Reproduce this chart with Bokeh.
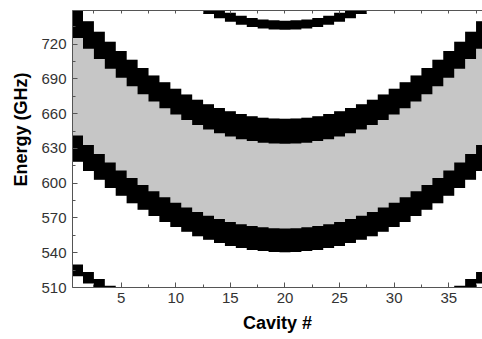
from bokeh.plotting import figure
from bokeh.models import Range1d, LinearAxis, FixedTicker, Title
from bokeh.embed import file_html
from bokeh.resources import INLINE

# ---- data -------------------------------------------------------------
cavity = list(range(1, 39))

# upper black band (GHz): lower / upper edge per cavity
band_upper_low = [725.3, 716.0, 707.1, 698.8, 690.9, 683.6, 676.8, 670.4, 664.6, 659.3,
                  654.5, 650.2, 646.4, 643.1, 640.3, 638.0, 636.3, 635.0, 634.3, 634.0,
                  634.3, 635.0, 636.3, 638.0, 640.3, 643.1, 646.4, 650.2, 654.5, 659.3,
                  664.6, 670.4, 676.8, 683.6, 690.9, 698.8, 707.1, 716.0]
band_upper_high = [751.0, 739.7, 730.6, 722.1, 714.0, 706.5, 699.4, 692.9, 687.0, 681.5,
                   676.6, 672.1, 668.2, 664.9, 662.0, 659.7, 657.8, 656.5, 655.8, 655.5,
                   655.8, 656.5, 657.8, 659.7, 662.0, 664.9, 668.2, 672.1, 676.6, 681.5,
                   687.0, 692.9, 699.4, 706.5, 714.0, 722.1, 730.6, 739.7]

# lower black band (GHz)
band_lower_low = [618.5, 610.5, 602.9, 595.8, 589.1, 582.8, 577.0, 571.6, 566.6, 562.1,
                  558.0, 554.3, 551.1, 548.3, 545.9, 544.0, 542.4, 541.4, 540.7, 540.5,
                  540.7, 541.4, 542.4, 544.0, 545.9, 548.3, 551.1, 554.3, 558.0, 562.1,
                  566.6, 571.6, 577.0, 582.8, 589.1, 595.8, 602.9, 610.5]
band_lower_high = [641.1, 632.9, 625.2, 617.8, 611.0, 604.5, 598.5, 593.0, 587.9, 583.2,
                   579.0, 575.2, 571.9, 569.0, 566.6, 564.6, 563.0, 561.9, 561.2, 561.0,
                   561.2, 561.9, 563.0, 564.6, 566.6, 569.0, 571.9, 575.2, 579.0, 583.2,
                   587.9, 593.0, 598.5, 604.5, 611.0, 617.8, 625.2, 632.9]

# top arc (only cavities 13-27 fall inside the energy window)
top_cavity = list(range(13, 28))
top_low = [746.0, 742.4, 739.3, 736.8, 734.8, 733.4, 732.6, 732.3,
           732.6, 733.4, 734.8, 736.8, 739.3, 742.4, 746.0]
top_high = [753.4, 749.9, 747.0, 744.5, 742.6, 741.3, 740.5, 740.2,
            740.5, 741.3, 742.6, 744.5, 747.0, 749.9, 753.4]

# bottom corner band
corner_cavity = [1, 2, 3, 4, 36, 37, 38]
corner_low = [519.8, 513.4, 507.3, 501.5, 501.5, 507.3, 513.4]
corner_high = [529.8, 523.4, 517.3, 511.5, 511.5, 517.3, 523.4]

x_ticks = [5, 10, 15, 20, 25, 30, 35]
x_minor = [2.5, 7.5, 12.5, 17.5, 22.5, 27.5, 32.5, 37.5]
y_ticks = [510, 540, 570, 600, 630, 660, 690, 720]
y_minor = [525, 555, 585, 615, 645, 675, 705, 735]


def staircase(cav, low, high):
    """One stepped outline per run of neighbouring cavities (cells are 1 wide)."""
    runs, cur = [], []
    for c, lo, hi in zip(cav, low, high):
        if cur and c != cur[-1][0] + 1:
            runs.append(cur)
            cur = []
        cur.append((c, lo, hi))
    if cur:
        runs.append(cur)
    xs, ys = [], []
    for run in runs:
        px, py = [], []
        for c, lo, hi in run:
            px += [c - 0.5, c + 0.5]
            py += [hi, hi]
        for c, lo, hi in reversed(run):
            px += [c + 0.5, c - 0.5]
            py += [lo, lo]
        xs.append(px)
        ys.append(py)
    return xs, ys


# ---- figure -----------------------------------------------------------
p = figure(frame_width=410, frame_height=277,
           x_range=Range1d(0.54, 38.09), y_range=Range1d(510, 749),
           output_backend="svg", toolbar_location=None,
           min_border_left=72, min_border_right=0,
           min_border_top=10, min_border_bottom=52,
           background_fill_color="white", border_fill_color="white")
p.grid.visible = False
p.outline_line_color = None

GREY = "#c6c6c6"
# grey pass band, spanning both black bands (they are painted over it)
gx, gy = staircase(cavity, band_lower_low, band_upper_high)
p.patches(gx, gy, fill_color=GREY, line_color=None)

for cav, lo, hi in [(cavity, band_upper_low, band_upper_high),
                    (cavity, band_lower_low, band_lower_high),
                    (top_cavity, top_low, top_high),
                    (corner_cavity, corner_low, corner_high)]:
    bx, by = staircase(cav, lo, hi)
    p.patches(bx, by, fill_color="black", line_color=None)

AX = "#555555"
FONT = "Liberation Sans"


def style_axis(ax):
    ax.axis_line_color = AX
    ax.axis_line_width = 1
    ax.major_tick_line_color = AX
    ax.minor_tick_line_color = AX
    ax.major_tick_in = 5
    ax.major_tick_out = 0
    ax.minor_tick_in = 3
    ax.minor_tick_out = 0
    ax.major_label_text_font = FONT
    ax.major_label_text_font_size = "15px"
    ax.major_label_text_color = "#333333"
    ax.major_label_standoff = 5


xa = p.xaxis[0]
xa.ticker = FixedTicker(ticks=x_ticks, minor_ticks=x_minor)
style_axis(xa)
xa.axis_label = "Cavity #"
xa.axis_label_text_font = FONT
xa.axis_label_text_font_style = "bold"
xa.axis_label_text_font_size = "18px"
xa.axis_label_text_color = "black"
xa.axis_label_standoff = 7

ya = p.yaxis[0]
ya.ticker = FixedTicker(ticks=y_ticks, minor_ticks=y_minor)
style_axis(ya)
ya.major_label_standoff = 6

# top edge: short inward ticks only, no labels
top = LinearAxis(ticker=FixedTicker(ticks=[], minor_ticks=sorted(x_ticks + x_minor)))
style_axis(top)
top.minor_tick_in = 3
p.add_layout(top, "above")

ytitle = Title(text="Energy (GHz)", align="right", offset=62, standoff=16,
               text_font=FONT, text_font_style="bold", text_font_size="18px",
               text_color="black")
p.add_layout(ytitle, "left")

open("out.html", "w").write(file_html(p, INLINE))
